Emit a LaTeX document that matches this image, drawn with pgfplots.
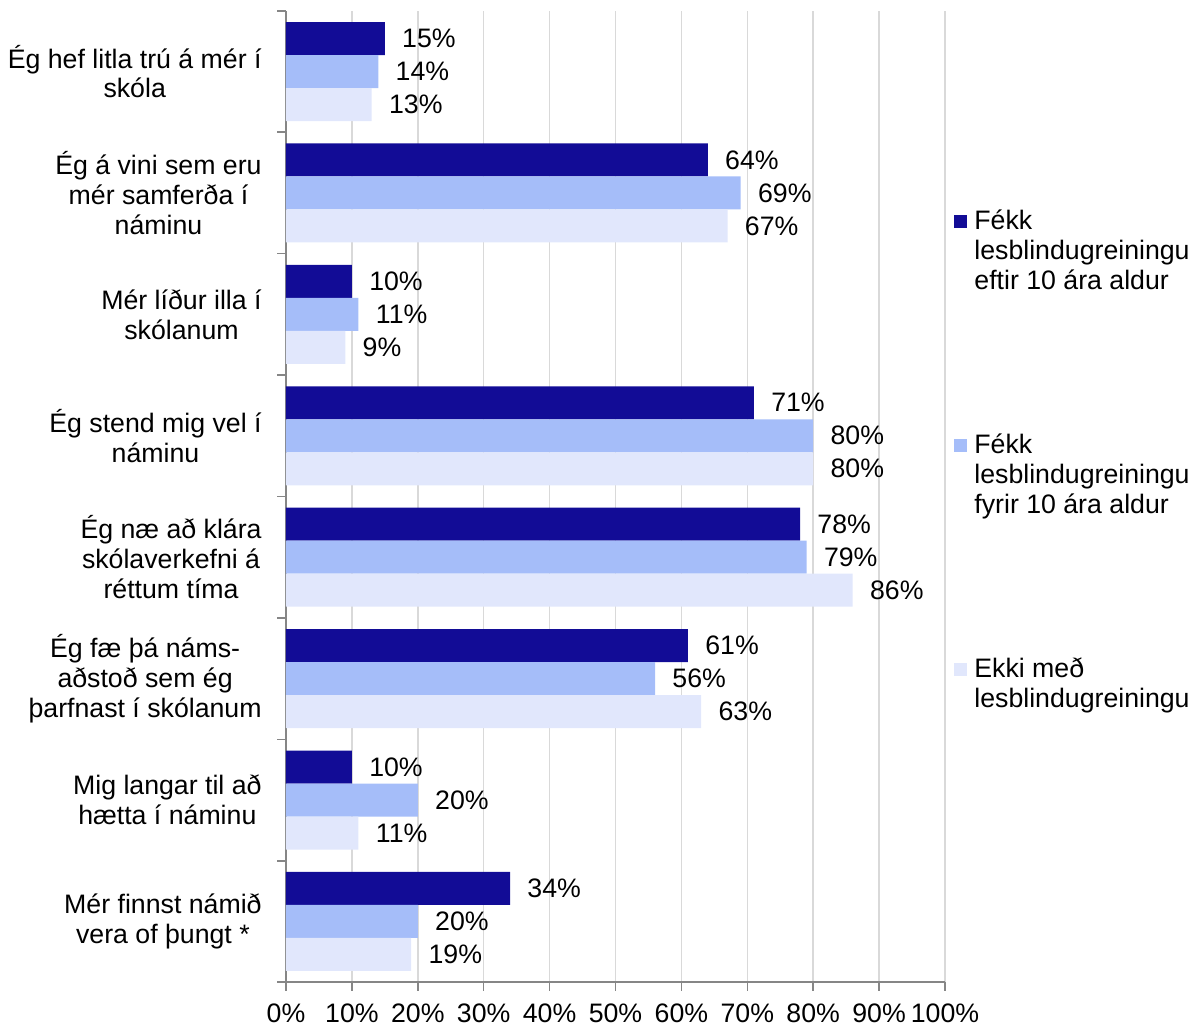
\documentclass[border=0pt]{standalone}
\usepackage{pgfplots}
\usepackage{pgfplotstable}
\pgfplotsset{compat=1.18}
\usepackage{fontspec}
\setmainfont{Liberation Sans}
\definecolor{cdark}{RGB}{18,12,150}
\definecolor{cmid}{RGB}{165,189,249}
\definecolor{clight}{RGB}{225,231,252}
\definecolor{axgray}{RGB}{134,134,134}
\definecolor{gridgray}{RGB}{217,217,217}
\pgfplotsset{sqlegend/.style={legend image code/.code={\fill[##1] (0bp,0.75bp) rectangle (6.5bp,7.25bp);}}}
\pgfplotstableread{
y a b c
7 15 14 13
6 64 69 67
5 10 11 9
4 71 80 80
3 78 79 86
2 61 56 63
1 10 20 11
0 34 20 19
}\data
\begin{document}
\fontsize{13.4}{15}\selectfont
\begin{tikzpicture}
\path[use as bounding box] (-143bp,-21.9bp) rectangle (455.5bp,491.1bp);
\begin{axis}[
  at={(0,0)}, anchor=south west,
  scale only axis, width=329.5bp, height=485.7bp,
  xmin=0, xmax=100, ymin=-0.5, ymax=7.5,
  xbar, bar width=16.5bp,
  axis x line*=bottom, axis y line*=left,
  axis line style={axgray, line width=0.75bp},
  xtick={0,10,...,100},
  xticklabel={\pgfmathprintnumber{\tick}\%},
  xticklabel style={yshift=-2bp},
  /pgf/number format/assume math mode=true,
  xmajorgrids, major grid style={gridgray, line width=0.75bp},
  tick align=outside, major tick length=4.25bp,
  tick style={axgray, line width=0.75bp},
  ytick={-0.5,0.5,...,7.5}, yticklabels={},
  extra y ticks={0,1,2,3,4,5,6,7},
  extra y tick labels={{Mér finnst námið\\vera of þungt *},{Mig langar til að\\hætta í náminu},{Ég fæ þá náms-\\aðstoð sem ég\\þarfnast í skólanum},{Ég næ að klára\\skólaverkefni á\\réttum tíma},{Ég stend mig vel í\\náminu},{Mér líður illa í\\skólanum},{Ég á vini sem eru\\mér samferða í\\náminu},{Ég hef litla trú á mér í\\skóla}},
  extra y tick style={major tick length=0pt, grid=none, yticklabel style={align=center, anchor=east, inner sep=0pt, xshift=-12bp}},
  point meta=x,
  nodes near coords={\pgfmathprintnumber{\pgfplotspointmeta}\%},
  nodes near coords style={anchor=west, inner sep=0pt, xshift=8.5bp, black},
  legend style={at={(axis description cs:1.0137,0.800)}, anchor=north west, draw=none, fill=none, inner sep=0pt, row sep=96bp, column sep=1.5bp,
    cells={anchor=base west, inner sep=0pt, text height=10bp, text depth=32bp}},
]
\addplot[fill=cdark, draw=none, bar shift=16.5bp, sqlegend] table[x=a,y=y]{\data};
\addlegendentry{\vtop{\hbox{Fékk}\hbox{lesblindugreiningu}\hbox{eftir 10 ára aldur}}}
\addplot[fill=cmid, draw=none, bar shift=0bp, sqlegend] table[x=b,y=y]{\data};
\addlegendentry{\vtop{\hbox{Fékk}\hbox{lesblindugreiningu}\hbox{fyrir 10 ára aldur}}}
\addplot[fill=clight, draw=none, bar shift=-16.5bp, sqlegend] table[x=c,y=y]{\data};
\addlegendentry{\vtop{\hbox{Ekki með}\hbox{lesblindugreiningu}}}
\end{axis}
\end{tikzpicture}
\end{document}
